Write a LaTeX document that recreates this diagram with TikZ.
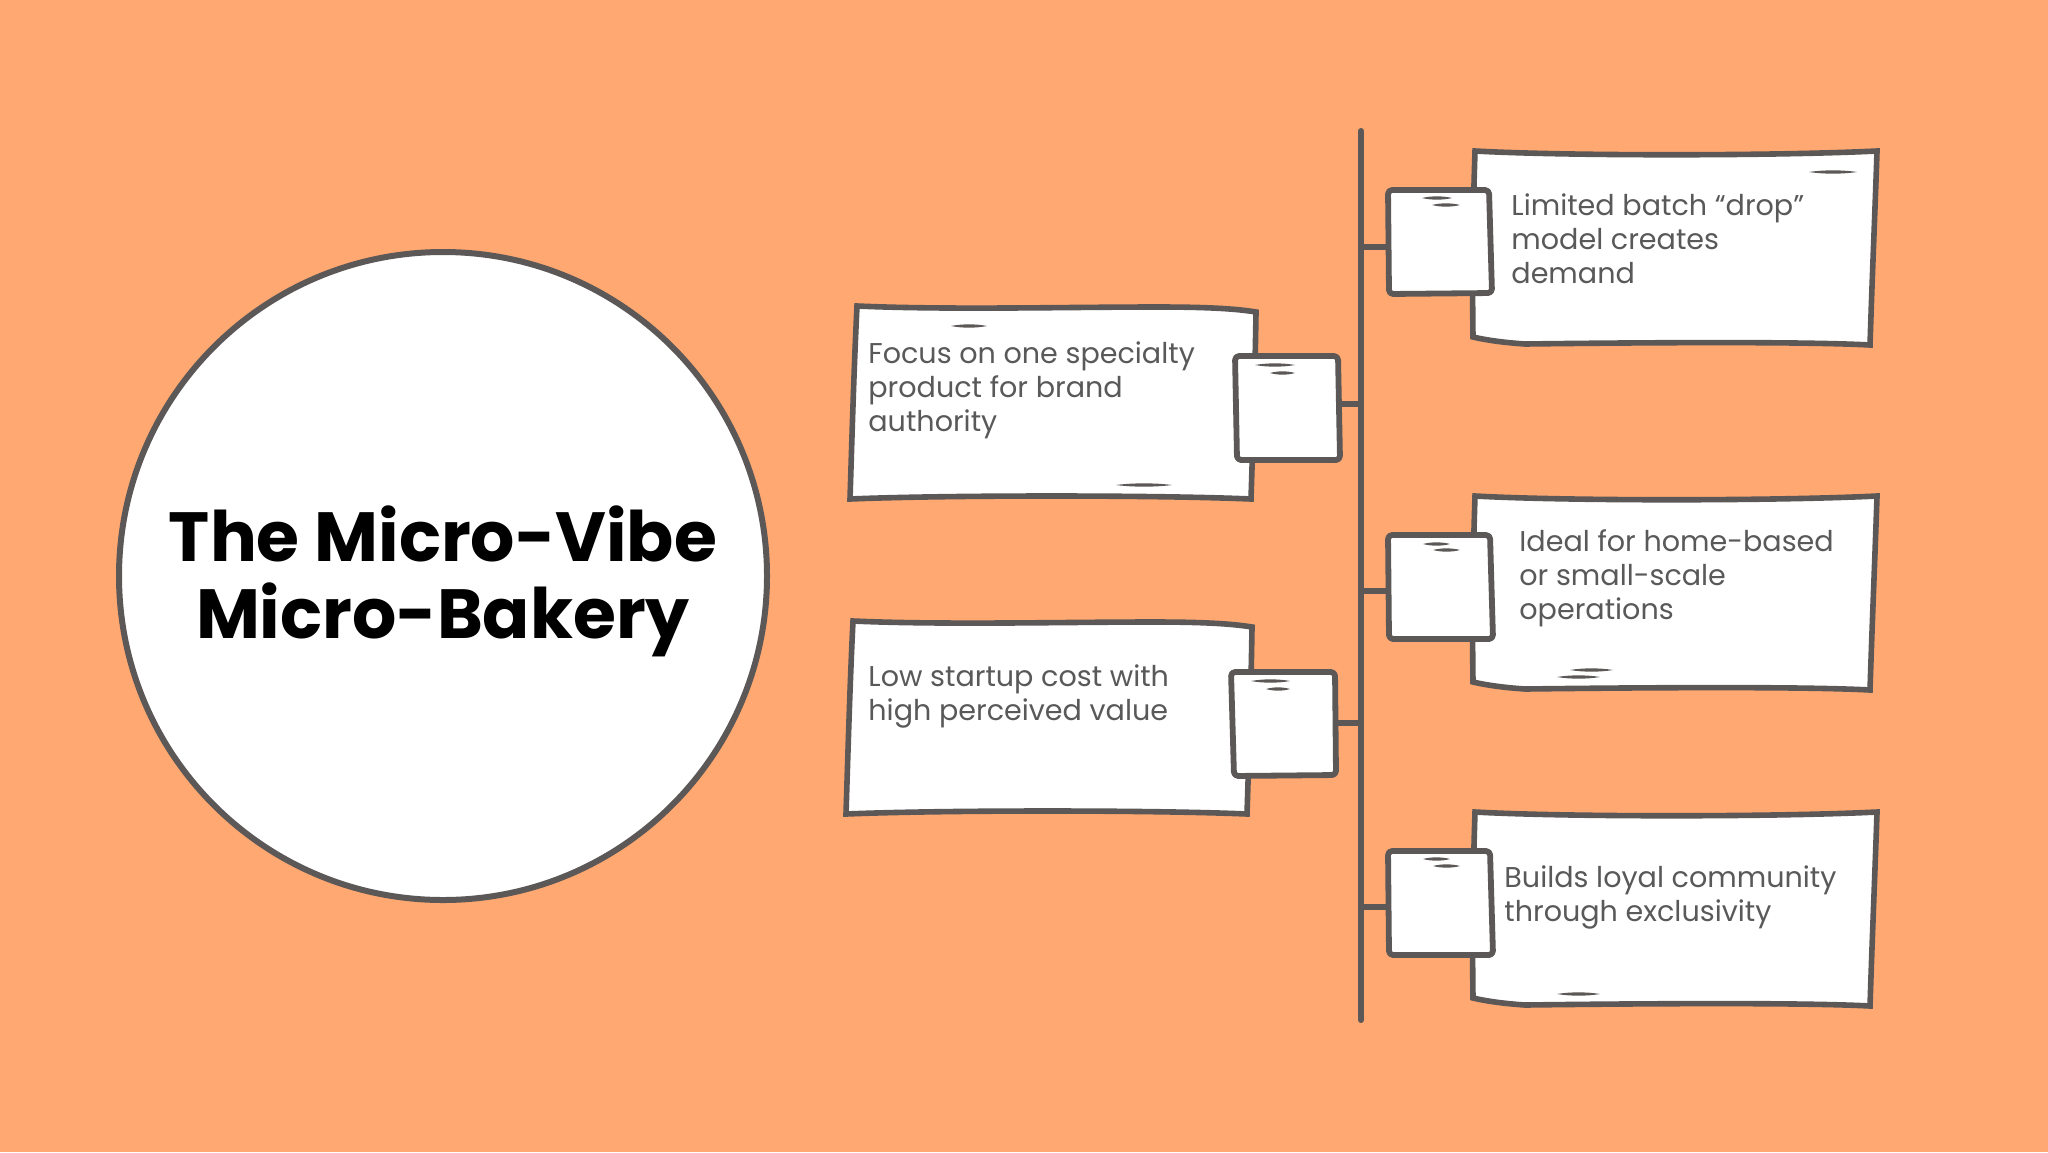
\documentclass[tikz,border=0pt]{standalone}
\usepackage{fontspec}
\setmainfont{Poppins}
\definecolor{bgc}{HTML}{FFA871}
\definecolor{ink}{HTML}{5C5857}
\definecolor{txt}{HTML}{595959}
\tikzset{
  sketch/.style={draw=ink,fill=white,line width=2.8pt,line join=miter},
  tab/.style={draw=ink,fill=white,line width=2.9pt,line join=round,rounded corners=2pt},
  wire/.style={draw=ink,line width=2.8pt},
  spine/.style={draw=ink,line width=3pt,line cap=round},
  body/.style={anchor=north west,inner sep=0pt,align=left,text=txt,font=\fontsize{14.3}{17}\selectfont},
  title/.style={anchor=center,inner sep=0pt,align=center,text=black,font=\bfseries\fontsize{34.8}{38.5}\selectfont}
}
% tapered pen stroke
\newcommand{\pen}[3]{\fill[ink] (#1,#3) .. controls ({#1+(#2-#1)*0.3},{#3-2.2}) and ({#1+(#2-#1)*0.7},{#3-2.2}) .. (#2,#3) .. controls ({#1+(#2-#1)*0.7},{#3+2.2}) and ({#1+(#2-#1)*0.3},{#3+2.2}) .. (#1,#3) -- cycle;}
% large boxes, open to the right / to the left
\newcommand{\bigR}[2]{\path[sketch,shift={(#1,#2)}] (0,0)
  .. controls (90,5) and (300,5) .. (402,0)
  .. controls (400,60) and (397,130) .. (395,194)
  .. controls (320,190) and (130,192) .. (50,193)
  .. controls (35,192) and (15,190) .. (-2,186)
  .. controls (-3,120) and (-2,60) .. (0,0) -- cycle;}
\newcommand{\bigL}[2]{\path[sketch,shift={(#1,#2)}] (0,0)
  .. controls (90,4) and (210,1) .. (300,1)
  .. controls (340,1) and (375,2) .. (399,6)
  .. controls (398,70) and (396,130) .. (394,193)
  .. controls (300,189) and (90,189) .. (-7,193)
  .. controls (-5,130) and (-3,60) .. (0,0) -- cycle;}
\begin{document}
\begin{tikzpicture}[x=0.5pt,y=-0.5pt]
\useasboundingbox (0,0) rectangle (2048,1152);
\fill[bgc] (0,0) rectangle (2048,1152);

% spine and its junctions
\coordinate (top) at (1361,131);
\coordinate (bot) at (1361,1020);
\coordinate (j1) at (1361,247);
\coordinate (j2) at (1361,404);
\coordinate (j3) at (1361,591);
\coordinate (j4) at (1361,723);
\coordinate (j5) at (1361,907);
\coordinate (t1) at (1389,247);
\coordinate (t2) at (1339,404);
\coordinate (t3) at (1389,591);
\coordinate (t4) at (1335,723);
\coordinate (t5) at (1389,907);
\draw[spine] (top) -- (bot);
\foreach \a/\b in {j1/t1,j2/t2,j3/t3,j4/t4,j5/t5} \draw[wire] (\a) -- (\b);

% circle
\node[circle,draw=ink,fill=white,line width=3pt,minimum size=324pt,inner sep=0pt] (hub) at (443,576) {};
\node[title] (head) at (443,581) {The Micro-Vibe\\Micro-Bakery};

% box 1
\bigR{1475}{151}
\path[tab] (1388,190) -- (1489,190) -- (1492,293) -- (1389,294) -- cycle;
\pen{1809}{1857}{172}
\pen{1422}{1452}{198}
\pen{1432}{1460}{205}
\node[body] (n1) at (1511,191) {\rule{0pt}{12pt}Limited batch “drop”\\model creates\\demand};

% box 2
\bigL{857}{306}
\path[tab] (1235,356) -- (1338,356) -- (1340,460) -- (1237,460) -- cycle;
\pen{951}{987}{326}
\pen{1116}{1172}{485}
\pen{1255}{1295}{365}
\pen{1270}{1295}{373}
\node[body] (n2) at (868,339) {\rule{0pt}{12pt}Focus on one specialty\\product for brand\\authority};

% box 3
\bigR{1475}{496}
\path[tab] (1388,535) -- (1490,535) -- (1493,639) -- (1389,639) -- cycle;
\pen{1423}{1450}{544}
\pen{1433}{1460}{550}
\pen{1570}{1613}{670}
\pen{1557}{1600}{677}
\node[body] (n3) at (1519,527) {\rule{0pt}{12pt}Ideal for home-based\\or small-scale\\operations};

% box 4
\bigL{853}{621}
\path[tab] (1231,672) -- (1335,672) -- (1336,775) -- (1234,776) -- cycle;
\pen{1251}{1290}{681}
\pen{1266}{1290}{689}
\node[body] (n4) at (868,662) {\rule{0pt}{12pt}Low startup cost with\\high perceived value};

% box 5
\bigR{1475}{812}
\path[tab] (1388,851) -- (1490,851) -- (1493,955) -- (1389,955) -- cycle;
\pen{1423}{1450}{859}
\pen{1433}{1460}{866}
\pen{1557}{1600}{994}
\node[body] (n5) at (1504,863) {\rule{0pt}{12pt}Builds loyal community\\through exclusivity};
\end{tikzpicture}
\end{document}
